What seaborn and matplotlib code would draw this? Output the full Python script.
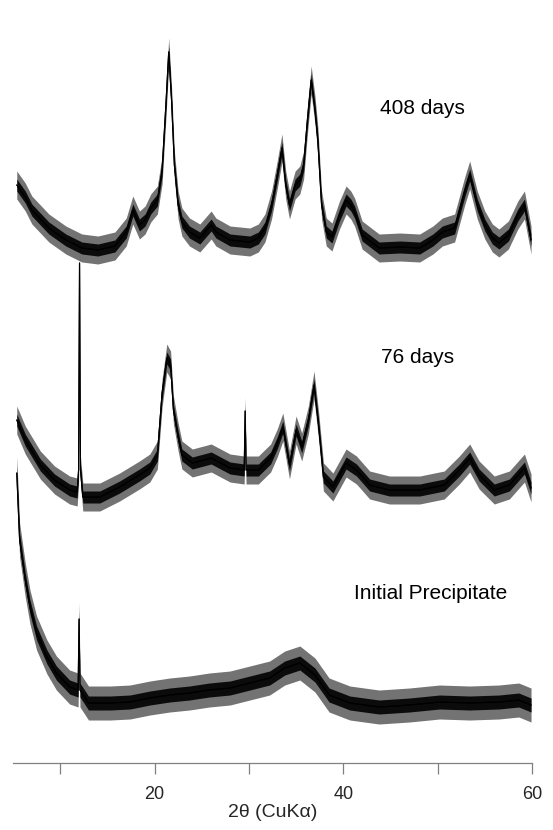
import matplotlib as mpl
mpl.use("Agg")
import matplotlib.pyplot as plt
import pandas as pd
import seaborn as sns

# 2-theta (deg) and offset intensity (arb. units)
tt_408 = [5.4, 6.3, 7.0, 8.8, 10.6, 12.3, 14.0, 15.8, 17.0, 17.7, 18.4, 19.0, 19.6,
          20.3, 20.8, 21.2, 21.5, 21.8, 22.1, 22.5, 22.9, 23.7, 24.8, 26.0, 26.5,
          28.0, 30.1, 31.0, 31.7, 32.4, 33.0, 33.5, 33.9, 34.3, 34.9, 35.4, 35.8,
          36.2, 36.6, 37.0, 37.3, 37.7, 38.2, 38.8, 39.6, 40.3, 40.8, 41.2, 42.0,
          43.8, 46.0, 48.1, 49.5, 50.5, 51.8, 52.9, 53.4, 54.2, 55.0, 55.8, 56.5,
          57.5, 58.5, 59.2, 59.9]
int_408 = [578, 566, 553, 535, 523, 515, 513, 517, 531, 553, 538, 543, 555,
           563, 593, 658, 711, 663, 598, 558, 541, 531, 525, 538, 531,
           523, 521, 525, 535, 558, 588, 615, 578, 558, 578, 583, 598,
           643, 683, 653, 623, 558, 531, 526, 548, 563, 558, 551, 528,
           515, 516, 515, 523, 531, 535, 573, 588, 558, 538, 525, 520,
           528, 548, 558, 523]

tt_76 = [5.4, 6.3, 7.9, 9.4, 11.0, 11.8, 11.95, 12.05, 12.15, 12.4, 14.2, 16.3, 18.4,
         19.5, 20.3, 20.8, 21.3, 21.7, 22.0, 22.5, 22.9, 24.0, 26.0, 28.0, 29.5,
         29.6, 29.7, 31.0, 32.3, 33.0, 33.6, 34.3, 35.0, 35.6, 36.3, 36.9, 37.4,
         37.9, 38.9, 40.3, 41.4, 42.8, 44.9, 48.1, 50.7, 52.3, 53.4, 54.4, 56.0,
         57.6, 59.2, 59.9]
int_76 = [343, 323, 298, 283, 273, 271, 293, 500, 293, 266, 266, 276, 288,
          295, 308, 370, 405, 398, 353, 326, 308, 300, 305, 295, 293,
          352, 293, 293, 305, 320, 336, 298, 333, 316, 343, 378, 336,
          286, 276, 300, 293, 278, 273, 273, 278, 293, 305, 288, 273,
          278, 295, 275]

tt_init = [5.4, 5.7, 6.3, 6.8, 7.5, 8.6, 9.6, 11.0, 11.9, 12.0, 12.1, 13.0, 15.3,
           17.4, 19.5, 21.6, 23.7, 25.8, 28.0, 30.1, 32.2, 33.8, 35.4, 37.0, 38.5,
           40.7, 43.8, 47.0, 50.2, 53.4, 56.5, 58.6, 59.9]
int_init = [290, 223, 183, 156, 130, 106, 90, 76, 73, 144, 73, 60, 60,
            61, 65, 68, 70, 73, 75, 80, 85, 95, 100, 88, 68,
            60, 56, 58, 61, 60, 61, 63, 58]

labels = ["408 days", "76 days", "Initial Precipitate"]
# half-widths of the counting-noise scatter: (outer fringe, dense core)
noise = {"408 days": (14, 6), "76 days": (14, 6), "Initial Precipitate": (17, 7)}
label_pos = [(48.4, 655), (47.9, 406), (49.3, 170)]

x_ticks = [10, 20, 30, 40, 50, 60]
x_ticklabels = ["", "20", "", "40", "", "60"]


def band_frame(tt, inten, half):
    rows = []
    for x, y in zip(tt, inten):
        rows.append({"tt": x, "I": y - half})
        rows.append({"tt": x, "I": y + half})
    return pd.DataFrame(rows)


def main():
    sns.set_style("white")
    plt.rcParams["font.family"] = ["Liberation Sans", "DejaVu Sans"]

    series = {"408 days": (tt_408, int_408),
              "76 days": (tt_76, int_76),
              "Initial Precipitate": (tt_init, int_init)}

    fig = plt.figure(figsize=(5.53, 8.30), dpi=100)
    ax = fig.add_axes([0.0235, 0.0807, 0.9385, 0.9193])

    for name in labels:
        tt, inten = series[name]
        outer, inner = noise[name]
        sns.lineplot(data=band_frame(tt, inten, outer), x="tt", y="I", ax=ax,
                     color="black", lw=0.8, estimator="mean", errorbar=("pi", 100),
                     err_kws={"alpha": 0.55, "linewidth": 0})
        sns.lineplot(data=band_frame(tt, inten, inner), x="tt", y="I", ax=ax,
                     color="black", lw=0.8, estimator="mean", errorbar=("pi", 100),
                     err_kws={"alpha": 0.9, "linewidth": 0})

    for name, (x, y) in zip(labels, label_pos):
        ax.text(x, y, name, ha="center", va="center", fontsize=15, color="black")

    ax.set_xlim(5, 60)
    ax.set_ylim(0, 763)
    ax.set_xticks(x_ticks)
    ax.set_xticklabels(x_ticklabels, fontsize=13)
    ax.set_yticks([])
    ax.set_ylabel("")
    ax.set_xlabel("2θ (CuKα)", fontsize=14, labelpad=1)
    for side in ["left", "right", "top"]:
        ax.spines[side].set_visible(False)
    ax.spines["bottom"].set_color("0.5")
    ax.spines["bottom"].set_linewidth(0.9)
    ax.tick_params(axis="x", direction="out", length=8, width=0.9, color="0.5",
                   bottom=True, pad=8.5)

    fig.savefig("out.png", dpi=100)


if __name__ == "__main__":
    main()
